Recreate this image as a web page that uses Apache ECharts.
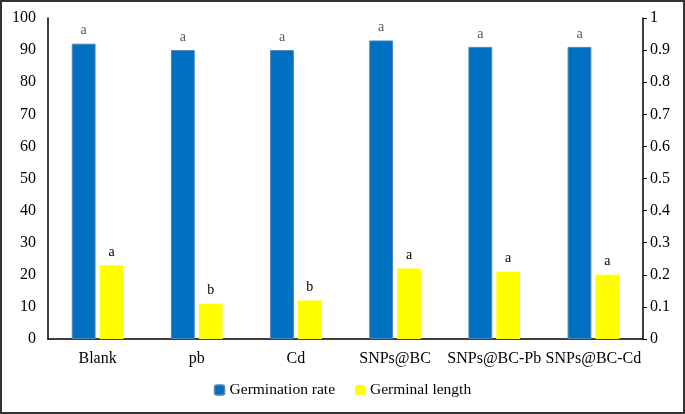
<!DOCTYPE html>
<html><head><meta charset="utf-8">
<script src="https://cdn.jsdelivr.net/npm/echarts@6/dist/echarts.min.js"></script>
<style>html,body{margin:0;padding:0;background:#fff}#c{width:685px;height:414px;box-sizing:border-box;border:2px solid #333}</style>
</head><body><div id="c"></div>
<script>
var categories = ['Blank','pb','Cd','SNPs@BC','SNPs@BC-Pb','SNPs@BC-Cd'];
var germinationRate = [92, 90, 90, 93, 91, 91];
var germinalLength = [0.23, 0.11, 0.12, 0.22, 0.21, 0.20];
var rateLetters = ['a','a','a','a','a','a'];
var lengthLetters = ['a','b','b','a','a','a'];
var font = 'Liberation Serif';
var chart = echarts.init(document.getElementById('c'));
chart.setOption({
  animation:false,
  textStyle:{fontFamily:font},
  grid:{left:46,right:40,top:16,bottom:73},
  legend:{bottom:9,left:'center',itemWidth:10,itemHeight:10,itemGap:20,
    textStyle:{fontFamily:font,fontSize:15.5,color:'#000'},
    data:[{name:'Germination rate',itemStyle:{borderColor:'#5b7fb5',borderWidth:1.5}},{name:'Germinal length'}]},
  xAxis:{type:'category',data:categories,
    axisLine:{lineStyle:{color:'#000',width:1.5}},axisTick:{show:false},
    axisLabel:{fontFamily:font,fontSize:16,color:'#000',margin:12,interval:0}},
  yAxis:[
    {type:'value',min:0,max:100,interval:10,splitLine:{show:false},
     axisLine:{show:true,lineStyle:{color:'#000',width:1.5}},axisTick:{show:false},
     axisLabel:{fontFamily:font,fontSize:16,color:'#000',margin:12}},
    {type:'value',min:0,max:1,interval:0.1,splitLine:{show:false},
     axisLine:{show:true,lineStyle:{color:'#000',width:1.5}},axisTick:{show:true,length:4,lineStyle:{color:'#000'}},
     axisLabel:{fontFamily:font,fontSize:16,color:'#000',margin:7}}
  ],
  series:[
    {name:'Germination rate',type:'bar',yAxisIndex:0,data:germinationRate,barWidth:'24%',barGap:'17%',
     itemStyle:{color:'#0070c0',borderColor:'#4f81bd',borderWidth:1},
     label:{show:true,position:'top',distance:6,fontFamily:font,fontSize:14,color:'#595959',
       formatter:function(p){return rateLetters[p.dataIndex];}}},
    {name:'Germinal length',type:'bar',yAxisIndex:1,data:germinalLength,barWidth:'24%',barGap:'17%',
     itemStyle:{color:'#ffff00'},
     label:{show:true,position:'top',distance:6,fontFamily:font,fontSize:14,color:'#000',
       formatter:function(p){return lengthLetters[p.dataIndex];}}}
  ]
});
</script></body></html>
